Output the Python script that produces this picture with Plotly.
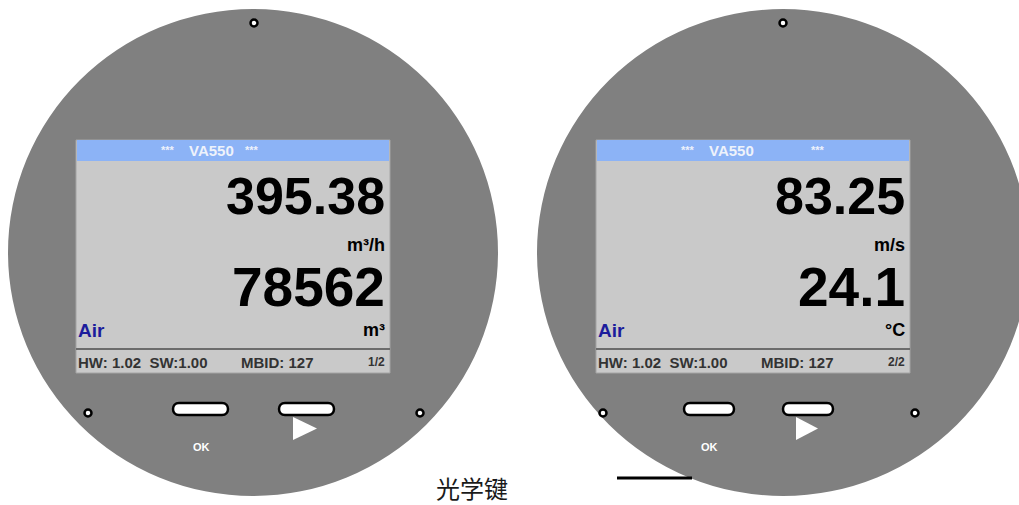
import plotly.graph_objects as go

# ---------------- data (display readings) ----------------
device_names = ["page 1", "page 2"]
header_left_marks = ["***", "***"]
header_models = ["VA550", "VA550"]
header_right_marks = ["***", "***"]
primary_values = ["395.38", "83.25"]
primary_units = ["m³/h", "m/s"]
secondary_values = ["78562", "24.1"]
secondary_units = ["m³", "°C"]
medium_labels = ["Air", "Air"]
hw_sw_labels = ["HW: 1.02&nbsp;&nbsp;SW:1.00", "HW: 1.02&nbsp;&nbsp;SW:1.00"]
mbid_labels = ["MBID: 127", "MBID: 127"]
page_labels = ["1/2", "2/2"]
button_labels = ["OK", "OK"]
caption_text = "光学键"

# ---------------- layout geometry (pixels) ----------------
W, H = 1019, 505
body = [dict(x0=8, y0=9, x1=498, y1=496), dict(x0=537, y0=9, x1=1029, y1=496)]
screen = [dict(x0=76, x1=390), dict(x0=596, x1=910)]
scr_top, scr_hdr, scr_sep, scr_bot = 140, 161, 349, 373
top_dots = [(254, 23), (783, 23)]
side_dots = [(88, 413), (420, 413), (603, 413), (915, 413)]
ok_btn = [(173, 228), (684, 734)]
nx_btn = [(279, 334), (783, 833)]
btn_y = (403, 415)
tri = [(293, 317), (796, 818)]
tri_y = (417, 440)
ok_x = [201, 709]
hdr_pos = [(168, 211, 252), (688, 731, 818)]

GREY = "#808080"
SCREEN = "#c9c9c9"
BLUE = "#8cb3f6"
FONT = "Liberation Sans, Arial, sans-serif"

shapes = []
annotations = []

def ann(x, y, text, size, color="#000000", xanchor="center", bold=True, family=FONT):
    annotations.append(dict(
        x=x, y=y, xref="x", yref="y", text=text, showarrow=False,
        xanchor=xanchor, yanchor="middle", borderpad=0,
        font=dict(family=family, size=size, color=color, weight=700 if bold else 400),
    ))

def pill(x0, x1, y0, y1):
    r = (y1 - y0) / 2.0
    k = r * 4.0 / 3.0
    return (f"M {x0 + r},{y0} L {x1 - r},{y0} "
            f"C {x1 - r + k},{y0} {x1 - r + k},{y1} {x1 - r},{y1} "
            f"L {x0 + r},{y1} "
            f"C {x0 + r - k},{y1} {x0 + r - k},{y0} {x0 + r},{y0} Z")

for i, name in enumerate(device_names):
    b = body[i]
    shapes.append(dict(type="circle", xref="x", yref="y", layer="below",
                       x0=b["x0"], y0=b["y0"], x1=b["x1"], y1=b["y1"],
                       fillcolor=GREY, line=dict(width=0)))
    sx0, sx1 = screen[i]["x0"], screen[i]["x1"]
    shapes.append(dict(type="rect", xref="x", yref="y", layer="below",
                       x0=sx0, y0=scr_top, x1=sx1, y1=scr_bot,
                       fillcolor=SCREEN, line=dict(color="#a4a4a4", width=1)))
    shapes.append(dict(type="rect", xref="x", yref="y", layer="below",
                       x0=sx0 + 1, y0=scr_top, x1=sx1 - 1, y1=scr_hdr,
                       fillcolor=BLUE, line=dict(width=0)))
    shapes.append(dict(type="line", xref="x", yref="y", layer="below",
                       x0=sx0, y0=scr_sep, x1=sx1, y1=scr_sep,
                       line=dict(color="#6c6c6c", width=2)))

    # header text
    hx1, hx2, hx3 = hdr_pos[i]
    ann(hx1, 150, header_left_marks[i], 11, color="#eef2fb")
    ann(hx2, 150, header_models[i], 15, color="#eef2fb")
    ann(hx3, 150, header_right_marks[i], 11, color="#eef2fb")

    rx = sx1 - 4
    ann(rx, 196, primary_values[i], 52, xanchor="right")
    ann(rx, 245, primary_units[i], 18, xanchor="right")
    ann(rx, 287, secondary_values[i], 55, xanchor="right")
    ann(rx, 330, secondary_units[i], 18, xanchor="right")
    ann(sx0 + 1, 330, medium_labels[i], 19, color="#1c1c9c", xanchor="left")
    ann(sx0 + 1, 362, hw_sw_labels[i], 15, color="#333333", xanchor="left")
    ann(sx0 + 164, 362, mbid_labels[i], 15, color="#333333", xanchor="left")
    ann(rx, 362, page_labels[i], 12, color="#333333", xanchor="right")

    # buttons
    for (bx0, bx1) in (ok_btn[i], nx_btn[i]):
        shapes.append(dict(type="path", xref="x", yref="y",
                           path=pill(bx0, bx1, btn_y[0], btn_y[1]),
                           fillcolor="#ffffff", line=dict(color="#000000", width=2.5)))
    tx0, tx1 = tri[i]
    shapes.append(dict(type="path", xref="x", yref="y",
                       path=f"M {tx0},{tri_y[0]} L {tx1},{(tri_y[0] + tri_y[1]) / 2} L {tx0},{tri_y[1]} Z",
                       fillcolor="#ffffff", line=dict(width=0)))
    ann(ok_x[i], 447, button_labels[i], 11, color="#ffffff")

for (dx, dy) in top_dots + side_dots:
    shapes.append(dict(type="circle", xref="x", yref="y",
                       x0=dx - 3.5, y0=dy - 3.5, x1=dx + 3.5, y1=dy + 3.5,
                       fillcolor="#ffffff", line=dict(color="#000000", width=2.5)))

# caption and pointer line
ann(472, 487, caption_text, 24, color="#1a1a1a", bold=False,
    family="Noto Sans CJK SC, sans-serif")
shapes.append(dict(type="line", xref="x", yref="y", x0=617, y0=478, x1=692, y1=478,
                   line=dict(color="#000000", width=3)))

fig = go.Figure()
fig.add_trace(go.Scatter(x=[0, W], y=[0, H], mode="markers",
                         marker=dict(opacity=0), hoverinfo="skip", showlegend=False))
fig.update_layout(
    width=W, height=H, margin=dict(l=0, r=0, t=0, b=0),
    paper_bgcolor="#ffffff", plot_bgcolor="#ffffff",
    xaxis=dict(range=[0, W], visible=False, fixedrange=True),
    yaxis=dict(range=[H, 0], visible=False, fixedrange=True),
    shapes=shapes, annotations=annotations, showlegend=False,
)
fig.write_html("out.html", config={"displayModeBar": False},
               post_script="document.body.style.margin='0';document.body.style.overflow='hidden';")
